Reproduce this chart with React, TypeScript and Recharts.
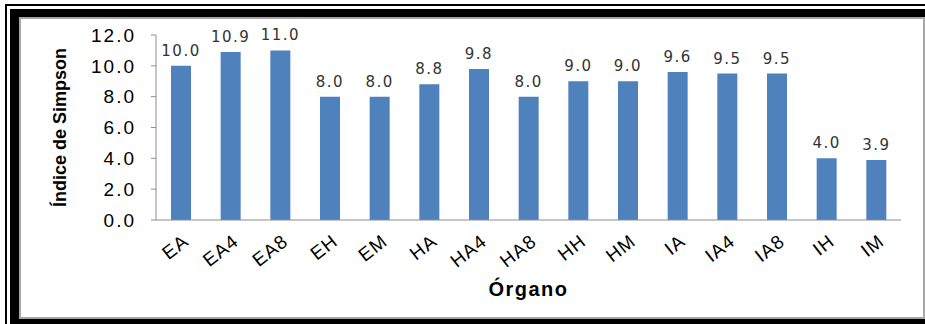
import { BarChart, Bar, XAxis, YAxis, LabelList } from 'recharts';

// Índice de Simpson por órgano
const organos = ['EA', 'EA4', 'EA8', 'EH', 'EM', 'HA', 'HA4', 'HA8', 'HH', 'HM', 'IA', 'IA4', 'IA8', 'IH', 'IM'];
const indiceSimpson = [10.0, 10.9, 11.0, 8.0, 8.0, 8.8, 9.8, 8.0, 9.0, 9.0, 9.6, 9.5, 9.5, 4.0, 3.9];
const yTicks = [0, 2, 4, 6, 8, 10, 12];

const data = organos.map((name, i) => ({ name, value: indiceSimpson[i] }));

const AXIS_COLOR = '#8c8c8c';
const SANS = "'Liberation Sans', Arial, sans-serif";

// marco: línea fina exterior, banda negra y panel blanco con borde gris
function Frame() {
  return (
    <>
      <div style={{ position: 'absolute', left: 5, top: 4, width: 940, height: 340, border: '2px solid #000' }} />
      <div style={{ position: 'absolute', left: 10, top: 9, width: 930, height: 330, background: '#000' }} />
      <div
        style={{
          position: 'absolute',
          left: 19,
          top: 17,
          width: 906,
          height: 302,
          boxSizing: 'border-box',
          border: '2px solid #a6a6a6',
          background: '#fff',
        }}
      />
    </>
  );
}

export default function App() {
  return (
    <div style={{ position: 'absolute', left: 0, top: 0, width: 925, height: 324, overflow: 'hidden', background: '#fff' }}>
      <Frame />
      <BarChart
        width={925}
        height={324}
        data={data}
        margin={{ top: 35, right: 24, bottom: 28, left: 20 }}
        style={{ position: 'absolute', left: 0, top: 0 }}
      >
        <XAxis
          dataKey="name"
          height={76}
          interval={0}
          tickLine={false}
          tickMargin={7}
          axisLine={{ stroke: AXIS_COLOR }}
          tick={{ angle: -38, textAnchor: 'end', dx: 1, fill: '#000', fontSize: 19, fontFamily: SANS, letterSpacing: 1 }}
          label={{
            value: 'Órgano',
            position: 'insideBottom',
            offset: 0,
            fill: '#000',
            fontSize: 20,
            fontWeight: 'bold',
            fontFamily: SANS,
            letterSpacing: 1.5,
          }}
        />
        <YAxis
          width={136}
          domain={[0, 12]}
          ticks={yTicks}
          tickFormatter={(v: number) => v.toFixed(1)}
          tickSize={5}
          tickMargin={15}
          axisLine={{ stroke: AXIS_COLOR }}
          tickLine={{ stroke: AXIS_COLOR }}
          tick={{ fill: '#000', fontSize: 19, fontFamily: SANS, letterSpacing: 2 }}
          label={{
            value: 'Índice de Simpson',
            angle: -90,
            position: 'center',
            dx: -28,
            fill: '#000',
            fontSize: 18,
            fontWeight: 'bold',
            fontFamily: SANS,
          }}
        />
        <Bar dataKey="value" fill="#4f81bd" barSize={20} isAnimationActive={false}>
          <LabelList
            dataKey="value"
            position="top"
            offset={10}
            formatter={(v: any) => Number(v).toFixed(1)}
            fill="#333"
            fontSize={15}
            fontFamily="'DejaVu Sans', Verdana, sans-serif"
            letterSpacing={1.5}
          />
        </Bar>
      </BarChart>
    </div>
  );
}
